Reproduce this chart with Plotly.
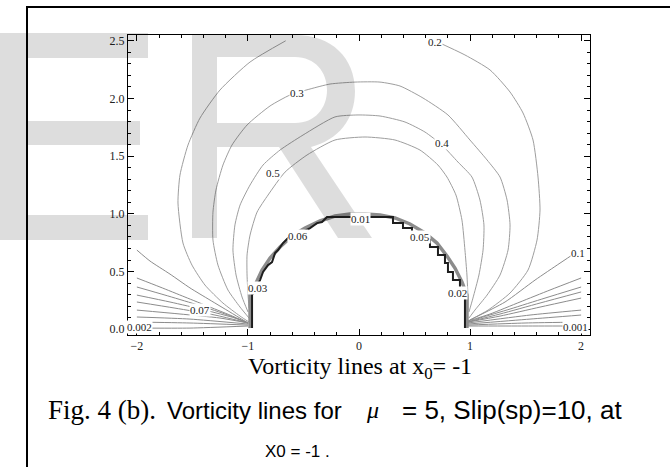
import plotly.graph_objects as go

# ---------------- data ----------------
x_ticks = [-2, -1, 0, 1, 2]
y_ticks = [0.0, 0.5, 1.0, 1.5, 2.0, 2.5]

# big arcs; None separates branches leaving the top edge
arc02_x = [-0.99, -1.071, -1.225, -1.387, -1.504, -1.585, -1.630, -1.612, -1.540, -1.432, -1.252, -0.981, -0.66,
           None, 0.684, 0.954, 1.180, 1.360, 1.477, 1.567, 1.612, 1.630, 1.603, 1.522, 1.360, 1.162, 0.999]
arc02_y = [0.062, 0.114, 0.227, 0.383, 0.556, 0.747, 1.094, 1.336, 1.596, 1.830, 2.073, 2.316, 2.5,
           None, 2.5, 2.377, 2.247, 2.056, 1.874, 1.640, 1.319, 1.033, 0.773, 0.513, 0.314, 0.166, 0.080]
arc03_x = [-0.990, -1.071, -1.180, -1.270, -1.315, -1.315, -1.288, -1.225, -1.144, -1.008, -0.801, -0.621, -0.441,
           -0.261, -0.036, 0.189, 0.369, 0.576, 0.801, 0.999, 1.153, 1.270, 1.333, 1.360, 1.342, 1.270, 1.153, 1.044, 0.990]
arc03_y = [0.097, 0.192, 0.340, 0.556, 0.773, 1.015, 1.206, 1.423, 1.596, 1.770, 1.935, 2.030, 2.082,
           2.125, 2.142, 2.142, 2.108, 2.004, 1.857, 1.640, 1.467, 1.319, 1.120, 0.904, 0.686, 0.470, 0.296, 0.166, 0.097]
arc04_x = [-0.999, -1.053, -1.107, -1.135, -1.117, -1.071, -0.981, -0.864, -0.711, -0.504, -0.216, -0.009,
           0.189, 0.414, 0.594, 0.747, 0.891, 1.017, 1.089, 1.125, 1.117, 1.080, 1.026, 0.990]
arc04_y = [0.149, 0.279, 0.470, 0.686, 0.904, 1.076, 1.250, 1.423, 1.553, 1.683, 1.840, 1.857,
           1.848, 1.796, 1.709, 1.596, 1.449, 1.319, 1.120, 0.904, 0.686, 0.470, 0.270, 0.149]
arc05_x = [-0.990, -0.999, -1.008, -1.008, -0.981, -0.918, -0.819, -0.666, -0.468, -0.216, 0.054,
           0.324, 0.549, 0.711, 0.792, 0.873, 0.927, 0.954, 0.972, 0.981, 0.981]
arc05_y = [0.183, 0.296, 0.470, 0.643, 0.816, 1.015, 1.163, 1.362, 1.510, 1.640, 1.666,
           1.640, 1.553, 1.423, 1.319, 1.163, 0.946, 0.686, 0.470, 0.279, 0.166]

# fan lines near the ground, left side (from x=-2 to the foot at x=-1)
fan_left_x = [[-2.0, -1.882, -1.702, -1.522, -1.342, -1.162, -0.999],
              [-2.0, -1.792, -1.567, -1.342, -1.162, -0.999],
              [-2.0, -1.747, -1.477, -1.207, -0.999],
              [-2.0, -1.702, -1.387, -1.117, -0.999],
              [-2.0, -1.657, -1.297, -0.999],
              [-2.0, -1.612, -1.252, -0.999],
              [-2.0, -1.522, -0.999],
              [-2.0, -1.522, -0.999],
              [-2.0, -1.522, -0.999]]
fan_left_y = [[0.686, 0.591, 0.478, 0.358, 0.253, 0.149, 0.054],
              [0.444, 0.366, 0.279, 0.192, 0.123, 0.054],
              [0.366, 0.296, 0.218, 0.132, 0.054],
              [0.296, 0.236, 0.166, 0.097, 0.054],
              [0.236, 0.183, 0.123, 0.054],
              [0.166, 0.132, 0.097, 0.054],
              [0.106, 0.088, 0.045],
              [0.062, 0.054, 0.036],
              [0.010, 0.010, 0.028]]
# fan lines, right side (from x=2 to the foot at x=1)
fan_right_x = [[2.0, 1.810, 1.585, 1.315, 1.089, 0.981],
               [2.0, 1.720, 1.450, 1.180, 0.981],
               [2.0, 1.675, 1.360, 1.089, 0.981],
               [2.0, 1.630, 1.270, 0.981],
               [2.0, 1.630, 1.270, 0.981],
               [2.0, 1.540, 0.981],
               [2.0, 1.540, 0.981],
               [2.0, 1.495, 0.981],
               [2.0, 1.495, 0.981]]
fan_right_y = [[0.695, 0.573, 0.426, 0.236, 0.123, 0.071],
               [0.444, 0.340, 0.236, 0.132, 0.071],
               [0.366, 0.270, 0.175, 0.097, 0.062],
               [0.323, 0.227, 0.132, 0.062],
               [0.270, 0.192, 0.114, 0.062],
               [0.166, 0.123, 0.054],
               [0.123, 0.088, 0.045],
               [0.062, 0.054, 0.036],
               [0.028, 0.028, 0.028]]

# jagged boundary (dark stair line) and smoother grey band
stair_x = [-0.963, -0.963, -0.936, -0.891, -0.864, -0.819, -0.783, -0.756, -0.729, -0.684, -0.639, -0.594, -0.513,
           -0.441, -0.378, -0.333, -0.288, 0.306, 0.306, 0.396, 0.396, 0.477, 0.477, 0.549, 0.549, 0.639, 0.639,
           0.711, 0.711, 0.774, 0.774, 0.801, 0.801, 0.846, 0.846, 0.909, 0.909, 0.954, 0.954]
stair_y = [0.010, 0.296, 0.340, 0.426, 0.496, 0.556, 0.582, 0.660, 0.686, 0.747, 0.790, 0.816, 0.842,
           0.877, 0.920, 0.929, 0.972, 0.972, 0.920, 0.920, 0.877, 0.877, 0.833, 0.833, 0.773, 0.773, 0.712,
           0.712, 0.643, 0.643, 0.574, 0.574, 0.496, 0.496, 0.426, 0.426, 0.322, 0.322, 0.010]
band_x = [-0.981, -0.981, -0.927, -0.873, -0.801, -0.711, -0.603, -0.486, -0.351, -0.216, -0.081, 0.054,
          0.189, 0.324, 0.459, 0.594, 0.702, 0.792, 0.864, 0.927, 0.972, 0.972]
band_y = [0.010, 0.314, 0.400, 0.513, 0.617, 0.712, 0.808, 0.877, 0.938, 0.981, 0.998, 0.998,
          0.990, 0.964, 0.912, 0.834, 0.747, 0.634, 0.530, 0.409, 0.296, 0.010]

# contour labels
label_text = ["0.2", "0.3", "0.4", "0.5", "0.1", "0.07", "0.002", "0.001", "0.01", "0.06", "0.05", "0.03", "0.02"]
label_x = [0.684, -0.558, 0.747, -0.774, 1.972, -1.432, -1.972, 1.950, 0.009, -0.549, 0.549, -0.909, 0.891]
label_y = [2.49, 2.047, 1.614, 1.354, 0.660, 0.166, 0.019, 0.019, 0.955, 0.808, 0.799, 0.357, 0.314]

# ---------------- figure ----------------
W, H = 670, 467
ML, MR, MT, MB = 128, 80, 35, 132
PW, PH = W - ML - MR, H - MT - MB

def px(x):
    return (x - ML) / PW

def py(y):
    return (H - MB - y) / PH

fig = go.Figure()
ARC = "rgb(158,158,158)"
FAN = "rgb(140,140,140)"

for xs, ys in [(arc02_x, arc02_y), (arc03_x, arc03_y), (arc04_x, arc04_y), (arc05_x, arc05_y)]:
    fig.add_trace(go.Scatter(x=xs, y=ys, mode="lines", line=dict(color=ARC, width=1, shape="spline", smoothing=0.6),
                             hoverinfo="skip", showlegend=False, connectgaps=False))
for xs, ys in zip(fan_left_x + fan_right_x, fan_left_y + fan_right_y):
    fig.add_trace(go.Scatter(x=xs, y=ys, mode="lines", line=dict(color=FAN, width=1, shape="spline", smoothing=0.6),
                             hoverinfo="skip", showlegend=False))
fig.add_trace(go.Scatter(x=band_x, y=band_y, mode="lines", line=dict(color="rgb(140,140,140)", width=3.5),
                         hoverinfo="skip", showlegend=False))
fig.add_trace(go.Scatter(x=stair_x, y=stair_y, mode="lines", line=dict(color="rgb(30,30,30)", width=2),
                         hoverinfo="skip", showlegend=False))

for t, lx, ly in zip(label_text, label_x, label_y):
    fig.add_annotation(x=lx, y=ly, xref="x", yref="y", text=t, showarrow=False,
                       font=dict(family="Liberation Serif", size=11, color="#222"),
                       bgcolor="white", borderpad=0)

# watermark letters "E" and "R" (pixel outlines converted to paper coords)
def P(x, y):
    return f"{px(x):.5f},{py(y):.5f}"

e_path = ("M" + P(-5, 33) + " L" + P(148, 33) + " L" + P(148, 58) + " L" + P(26, 58) + " L" + P(26, 121) +
          " L" + P(140, 121) + " L" + P(140, 145) + " L" + P(26, 145) + " L" + P(26, 215) + " L" + P(148, 215) +
          " L" + P(148, 240) + " L" + P(-5, 240) + " Z")
r_path = ("M" + P(192, 238) + " L" + P(192, 35) + " L" + P(295, 35) +
          " C" + P(332, 35) + " " + P(355, 58) + " " + P(355, 91) +
          " C" + P(355, 120) + " " + P(338, 140) + " " + P(311, 147) +
          " L" + P(372, 238) + " L" + P(338, 238) + " L" + P(279, 147) + " L" + P(217, 147) + " L" + P(217, 238) + " Z" +
          " M" + P(217, 57) + " L" + P(217, 123) + " L" + P(295, 123) +
          " C" + P(315, 123) + " " + P(327, 108) + " " + P(327, 90) +
          " C" + P(327, 72) + " " + P(315, 57) + " " + P(295, 57) + " Z")
for pth in (e_path, r_path):
    fig.add_shape(type="path", xref="paper", yref="paper", path=pth,
                  fillcolor="rgba(0,0,0,0.135)", line=dict(width=0), layer="above")

# page border (left and top)
fig.add_shape(type="line", xref="paper", yref="paper", x0=px(27), y0=py(7), x1=px(27), y1=py(470),
              line=dict(color="black", width=2))
fig.add_shape(type="line", xref="paper", yref="paper", x0=px(26), y0=py(7), x1=px(672), y1=py(7),
              line=dict(color="black", width=2))

# axis title and caption
CAP_Y = 410
fig.add_annotation(x=px(360), y=py(368), xref="paper", yref="paper", showarrow=False, xanchor="center",
                   yanchor="middle", text="Vorticity lines at x<sub>0</sub>= -1",
                   font=dict(family="Liberation Serif", size=24, color="black"))
fig.add_annotation(x=px(46), y=py(CAP_Y), xref="paper", yref="paper", showarrow=False, xanchor="left",
                   yanchor="middle", text="Fig. 4 (b).", font=dict(family="Liberation Serif", size=27, color="black"))
fig.add_annotation(x=px(165), y=py(CAP_Y), xref="paper", yref="paper", showarrow=False, xanchor="left",
                   yanchor="middle", text="Vorticity lines for", font=dict(family="Liberation Sans", size=24, color="black"))
fig.add_annotation(x=px(364), y=py(CAP_Y), xref="paper", yref="paper", showarrow=False, xanchor="left",
                   yanchor="middle", text="<i>μ</i>", font=dict(family="Liberation Serif", size=24, color="black"))
fig.add_annotation(x=px(400), y=py(CAP_Y), xref="paper", yref="paper", showarrow=False, xanchor="left",
                   yanchor="middle", text="= 5, Slip(sp)=10, at", font=dict(family="Liberation Sans", size=26, color="black"))
fig.add_annotation(x=px(263), y=py(451), xref="paper", yref="paper", showarrow=False, xanchor="left",
                   yanchor="middle", text="X0 = -1 .", font=dict(family="Liberation Sans", size=17, color="black"))

axis_common = dict(showgrid=False, zeroline=False, showline=True, linecolor="black", linewidth=1,
                   mirror="allticks", ticks="inside", ticklen=6, tickwidth=1, tickcolor="black",
                   tickfont=dict(family="Liberation Serif", size=12, color="#222"))
fig.update_xaxes(range=[-2.08, 2.08], tickmode="array", tickvals=x_ticks, ticktext=["−2", "−1", "0", "1", "2"],
                 minor=dict(dtick=0.2, tick0=0, ticks="inside", ticklen=3, tickcolor="black"), **axis_common)
fig.update_yaxes(range=[-0.05, 2.55], tickmode="array", tickvals=y_ticks, ticktext=[f"{v:.1f}" for v in y_ticks],
                 minor=dict(dtick=0.1, tick0=0, ticks="inside", ticklen=3, tickcolor="black"), **axis_common)

fig.update_layout(width=W, height=H, margin=dict(l=ML, r=MR, t=MT, b=MB, pad=0),
                  paper_bgcolor="white", plot_bgcolor="white", showlegend=False)
fig.write_html("out.html")
